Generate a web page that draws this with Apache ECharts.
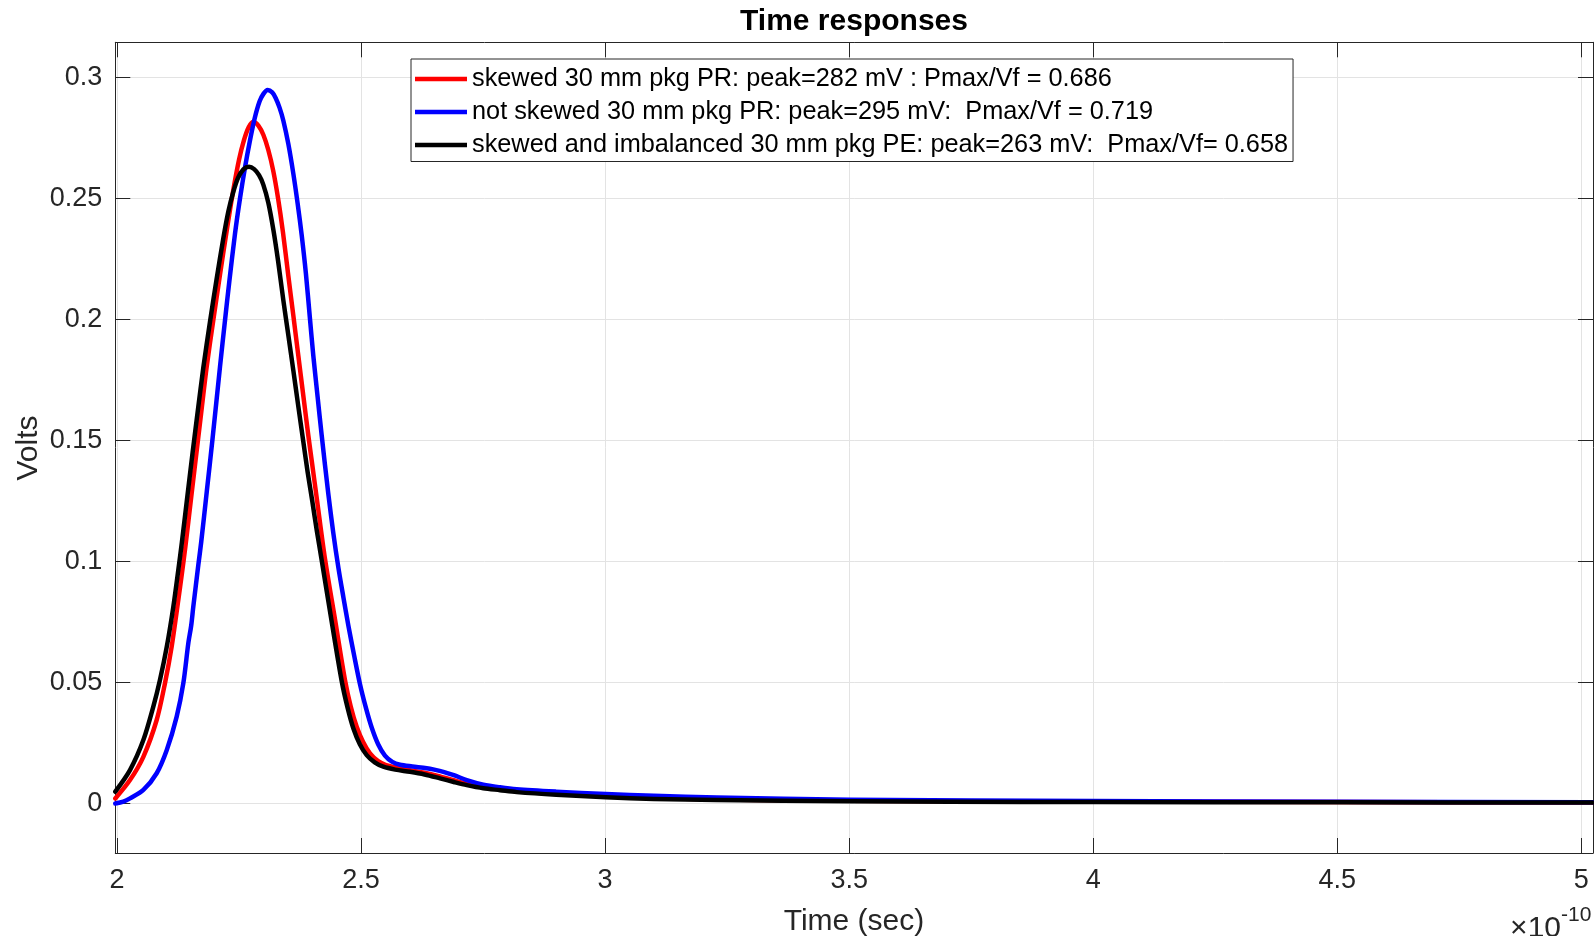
<!DOCTYPE html>
<html>
<head>
<meta charset="utf-8">
<script src="https://cdn.jsdelivr.net/npm/echarts@6/dist/echarts.min.js"></script>
<style>
  html, body { margin: 0; padding: 0; background: #ffffff; }
  #chart { width: 1594px; height: 936px; }
</style>
</head>
<body>
<div id="chart"></div>
<script>
// Time is expressed in units of 1e-10 s (the axis carries a x10^-10 multiplier).
const xTicks = [2, 2.5, 3, 3.5, 4, 4.5, 5];
const xTickLabels = ['2', '2.5', '3', '3.5', '4', '4.5', '5'];
const yTicks = [0, 0.05, 0.1, 0.15, 0.2, 0.25, 0.3];
const yTickLabels = ['0', '0.05', '0.1', '0.15', '0.2', '0.25', '0.3'];

const seriesNames = [
  'skewed 30 mm pkg PR: peak=282 mV : Pmax/Vf = 0.686',
  'not skewed 30 mm pkg PR: peak=295 mV:  Pmax/Vf = 0.719',
  'skewed and imbalanced 30 mm pkg PE: peak=263 mV:  Pmax/Vf= 0.658'
];

// skewed, PR
const tRed = [1.9965, 2.0266, 2.054, 2.0813, 2.0983, 2.112, 2.1256, 2.133, 2.140, 2.152,
  2.1646, 2.174, 2.1837, 2.1973, 2.211, 2.225, 2.2383, 2.25, 2.26, 2.27,
  2.2793, 2.29, 2.30, 2.31, 2.32, 2.33, 2.34, 2.351, 2.361, 2.3715,
  2.382, 2.392, 2.40, 2.41, 2.4262, 2.4467, 2.4671, 2.479, 2.4911, 2.504,
  2.5183, 2.535, 2.55, 2.575, 2.6003, 2.63, 2.6617, 2.69, 2.7165, 2.7505,
  2.7847, 2.8189, 2.9, 3.0012, 3.1, 3.2286, 3.5017, 4.0, 4.5, 5.024];
const vRed = [0.0021, 0.0097, 0.0193, 0.0345, 0.0497, 0.0648, 0.0841, 0.0950, 0.1060, 0.1265,
  0.1480, 0.1640, 0.1804, 0.1997, 0.2185, 0.2370, 0.2535, 0.2660, 0.2740, 0.2795,
  0.2817, 0.2800, 0.2762, 0.2700, 0.2615, 0.2500, 0.2360, 0.2180, 0.2020, 0.1850,
  0.1680, 0.1520, 0.1400, 0.1250, 0.1010, 0.0760, 0.0510, 0.0400, 0.0317, 0.0255,
  0.0207, 0.0175, 0.0160, 0.0148, 0.0138, 0.0127, 0.0112, 0.0096, 0.0082, 0.0068,
  0.0060, 0.0051, 0.0040, 0.0030, 0.0023, 0.0017, 0.0011, 0.0008, 0.0006, 0.0004];

// not skewed, PR
const tBlue = [1.9965, 2.013, 2.0266, 2.054, 2.0813, 2.102, 2.1223, 2.1359, 2.1461, 2.152,
  2.1563, 2.1666, 2.1725, 2.184, 2.1959, 2.211, 2.2213, 2.23, 2.2418, 2.252,
  2.262, 2.272, 2.282, 2.292, 2.30, 2.3087, 2.318, 2.325, 2.333, 2.3407,
  2.351, 2.3612, 2.370, 2.3783, 2.387, 2.395, 2.4022, 2.411, 2.4194, 2.4329,
  2.443, 2.4535, 2.464, 2.474, 2.486, 2.4976, 2.51, 2.5216, 2.535, 2.549,
  2.564, 2.5798, 2.605, 2.6345, 2.65, 2.6686, 2.69, 2.7165, 2.7505, 2.7847,
  2.8189, 2.9, 3.0012, 3.1, 3.2286, 3.5017, 4.0, 4.5, 5.024];
const vBlue = [0.0000, 0.0008, 0.0021, 0.0056, 0.0125, 0.0221, 0.0359, 0.0497, 0.0662, 0.0735,
  0.0813, 0.0985, 0.1080, 0.1290, 0.1510, 0.1804, 0.1997, 0.2155, 0.2355, 0.2500,
  0.2625, 0.2735, 0.2830, 0.2900, 0.2932, 0.2948, 0.2938, 0.2915, 0.2875, 0.2822,
  0.2725, 0.2603, 0.2480, 0.2350, 0.2190, 0.2010, 0.1850, 0.1680, 0.1520, 0.1280,
  0.1120, 0.0975, 0.0850, 0.0735, 0.0610, 0.0495, 0.0395, 0.0315, 0.0245, 0.0198,
  0.0172, 0.0160, 0.0153, 0.0146, 0.0140, 0.0131, 0.0117, 0.0097, 0.0078, 0.0067,
  0.0059, 0.0049, 0.0039, 0.0032, 0.0025, 0.0016, 0.0010, 0.0007, 0.0005];

// skewed and imbalanced, PE
const tBlack = [1.9965, 2.0266, 2.054, 2.0744, 2.088, 2.102, 2.1154, 2.1256, 2.133, 2.143,
  2.1549, 2.166, 2.1768, 2.1905, 2.2043, 2.2178, 2.228, 2.2383, 2.248, 2.259,
  2.2704, 2.281, 2.291, 2.2997, 2.31, 2.3202, 2.33, 2.3407, 2.351, 2.3612,
  2.3715, 2.3817, 2.3905, 2.40, 2.4095, 2.4194, 2.4399, 2.4604, 2.4725, 2.4843,
  2.4975, 2.5116, 2.528, 2.5456, 2.57, 2.6003, 2.63, 2.6617, 2.69, 2.7165,
  2.7505, 2.7847, 2.8189, 2.9, 3.0012, 3.1, 3.2286, 3.5017, 3.7066, 4.0, 4.5, 5.024];
const vBlack = [0.0049, 0.0138, 0.0262, 0.0400, 0.0510, 0.0648, 0.0813, 0.0965, 0.1080, 0.1250,
  0.1450, 0.1630, 0.1800, 0.1990, 0.2170, 0.2335, 0.2445, 0.2527, 0.2585, 0.2620,
  0.2631, 0.2621, 0.2596, 0.2557, 0.2482, 0.2372, 0.2242, 0.2080, 0.1935, 0.1790,
  0.1640, 0.1495, 0.1370, 0.1250, 0.1125, 0.1005, 0.0750, 0.0505, 0.0395, 0.0310,
  0.0245, 0.0200, 0.0170, 0.0152, 0.0140, 0.0131, 0.0120, 0.0104, 0.0089, 0.0076,
  0.0063, 0.0055, 0.0047, 0.0036, 0.0026, 0.0019, 0.0014, 0.0009, 0.0007, 0.0006, 0.0005, 0.0004];

const seriesColors = ['#ff0000', '#0000ff', '#000000'];

const X_MIN = 1.99652, X_MAX = 5.0239;
const Y_MIN = -0.02045, Y_MAX = 0.3145;

const FONT = "'Liberation Sans', Arial, Helvetica, sans-serif";
const AXIS_COLOR = '#262626';
const GRID_COLOR = '#e3e3e3';

function pairs(t, v) { return t.map((x, i) => [x, v[i]]); }
function labelFrom(ticks, labels) {
  return function (val) {
    for (let i = 0; i < ticks.length; i++) {
      if (Math.abs(ticks[i] - val) < 1e-9) return labels[i];
    }
    return '';
  };
}

const plotLeft = 115.3, plotRight = 1593, plotTop = 42.3, plotBottom = 853;

function xAxisCfg(pos, main) {
  return {
    type: 'value', position: pos, min: X_MIN, max: X_MAX,
    axisLine: { show: true, onZero: false, lineStyle: { color: AXIS_COLOR, width: 1 } },
    axisTick: { show: true, inside: true, length: 15, customValues: xTicks,
      lineStyle: { color: AXIS_COLOR, width: 1 } },
    axisLabel: { show: main, customValues: xTicks, formatter: labelFrom(xTicks, xTickLabels),
      color: AXIS_COLOR, fontSize: 27, fontFamily: FONT, margin: 14 },
    splitLine: { show: main, lineStyle: { color: GRID_COLOR, width: 1 } }
  };
}
function yAxisCfg(pos, main) {
  return {
    type: 'value', position: pos, min: Y_MIN, max: Y_MAX,
    axisLine: { show: true, onZero: false, lineStyle: { color: AXIS_COLOR, width: 1 } },
    axisTick: { show: true, inside: true, length: 15, customValues: yTicks,
      lineStyle: { color: AXIS_COLOR, width: 1 } },
    axisLabel: { show: main, customValues: yTicks, formatter: labelFrom(yTicks, yTickLabels),
      color: AXIS_COLOR, fontSize: 27, fontFamily: FONT, margin: 13 },
    splitLine: { show: main, lineStyle: { color: GRID_COLOR, width: 1 } }
  };
}

const chart = echarts.init(document.getElementById('chart'), null, { renderer: 'canvas' });

const series = [pairs(tRed, vRed), pairs(tBlue, vBlue), pairs(tBlack, vBlack)].map((d, i) => ({
  name: seriesNames[i],
  type: 'line',
  xAxisIndex: 0, yAxisIndex: 0,
  data: d,
  showSymbol: false,
  smooth: 0.3,
  lineStyle: { color: seriesColors[i], width: 4.5, join: 'round', cap: 'round' },
  itemStyle: { color: seriesColors[i] },
  emphasis: { disabled: true },
  silent: true,
  z: 3 + i
}));

chart.setOption({
  animation: false,
  backgroundColor: '#ffffff',
  grid: { left: plotLeft, top: plotTop, width: plotRight - plotLeft, height: plotBottom - plotTop, containLabel: false },
  xAxis: [xAxisCfg('bottom', true), xAxisCfg('top', false)],
  yAxis: [yAxisCfg('left', true), yAxisCfg('right', false)],
  legend: {
    data: seriesNames,
    orient: 'vertical',
    left: 411, top: 59,
    itemWidth: 52, itemHeight: 4.5, itemGap: 8,
    icon: 'rect',
    padding: [7.5, 5, 4, 4],
    borderColor: AXIS_COLOR, borderWidth: 1, backgroundColor: '#ffffff',
    selectedMode: false,
    textStyle: { fontSize: 25.3, fontFamily: FONT, color: '#000000' }
  },
  graphic: [
    { type: 'text', x: 854, y: 22, z: 10,
      style: { text: 'Time responses', font: 'bold 30px ' + FONT, fill: '#000000',
        textAlign: 'center', textVerticalAlign: 'middle' } },
    { type: 'text', x: 854, y: 922, z: 10,
      style: { text: 'Time (sec)', font: '30px ' + FONT, fill: AXIS_COLOR,
        textAlign: 'center', textVerticalAlign: 'middle' } },
    { type: 'text', x: 28.5, y: 448, rotation: Math.PI / 2, z: 10,
      style: { text: 'Volts', font: '30px ' + FONT, fill: AXIS_COLOR,
        textAlign: 'center', textVerticalAlign: 'middle' } },
    { type: 'text', x: 1561, y: 929, z: 10,
      style: { text: '\u00d710', font: '30px ' + FONT, fill: AXIS_COLOR,
        textAlign: 'right', textVerticalAlign: 'middle' } },
    { type: 'text', x: 1561, y: 915, z: 10,
      style: { text: '-10', font: '21px ' + FONT, fill: AXIS_COLOR,
        textAlign: 'left', textVerticalAlign: 'middle' } }
  ],
  series: series
});
</script>
</body>
</html>
